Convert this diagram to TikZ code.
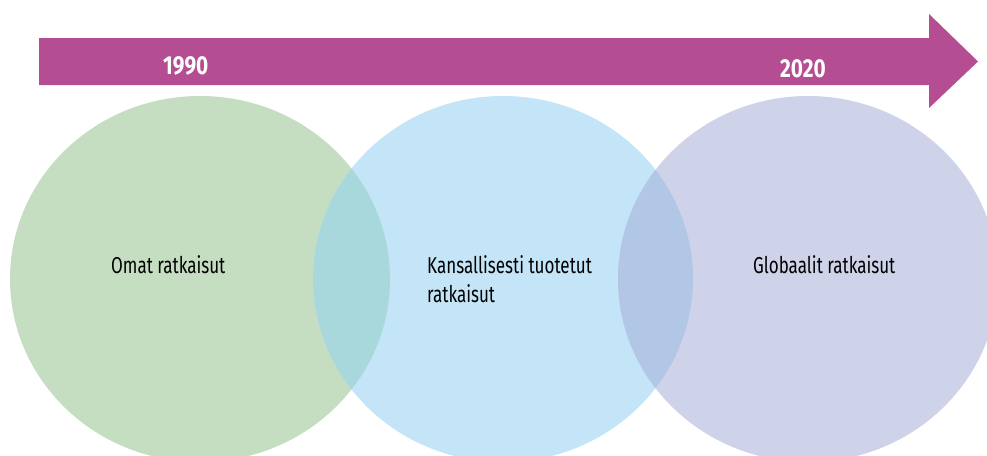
\documentclass[tikz,border=0pt]{standalone}
\usepackage{fontspec}
\setmainfont{Fira Sans}[FakeStretch=0.8]
\newfontfamily\labelfont{Fira Sans}[FakeStretch=0.74]
\definecolor{arrowpink}{RGB}{181,77,147}
\definecolor{localgreen}{RGB}{197,222,194}
\definecolor{nationalblue}{RGB}{195,229,247}
\definecolor{globalviolet}{RGB}{207,211,233}
\definecolor{greenblue}{RGB}{168,216,220}
\definecolor{blueviolet}{RGB}{178,198,230}
\tikzset{
  ring/.style={x radius=190, y radius=183},
  label/.style={anchor=base west, inner sep=0pt, font=\labelfont\fontsize{23}{29}\selectfont, text=black},
  year/.style={anchor=base west, inner sep=0pt, font=\fontsize{26}{30}\selectfont\bfseries, text=white},
}
\begin{document}
\begin{tikzpicture}[x=1pt,y=-1pt]
  \useasboundingbox (0,0) rectangle (987,455);
  \clip (0,0) rectangle (987,455);

  % timeline arrow
  \fill[arrowpink] (39,38) -- (929,38) -- (929,14) -- (978,61.5)
    -- (929,108) -- (929,85) -- (39,85) -- cycle;
  \node[year] (y1990) at (163,74) {1990};
  \node[year] (y2020) at (780,77) {2020};

  % three overlapping eras
  \coordinate (cg) at (200,279);
  \coordinate (cb) at (503,279);
  \coordinate (cv) at (808,279);
  \fill[localgreen] (cg) ellipse [ring];
  \fill[nationalblue] (cb) ellipse [ring];
  \fill[globalviolet] (cv) ellipse [ring];
  \begin{scope}
    \clip (cg) ellipse [ring];
    \fill[greenblue] (cb) ellipse [ring];
  \end{scope}
  \begin{scope}
    \clip (cb) ellipse [ring];
    \fill[blueviolet] (cv) ellipse [ring];
  \end{scope}

  \node[label] (own) at (111,273) {Omat ratkaisut};
  \node[label] (nat1) at (427,273) {Kansallisesti tuotetut};
  \node[label] (nat2) at (427,302) {ratkaisut};
  \node[label] (glob) at (753,273) {Globaalit ratkaisut};
\end{tikzpicture}
\end{document}
